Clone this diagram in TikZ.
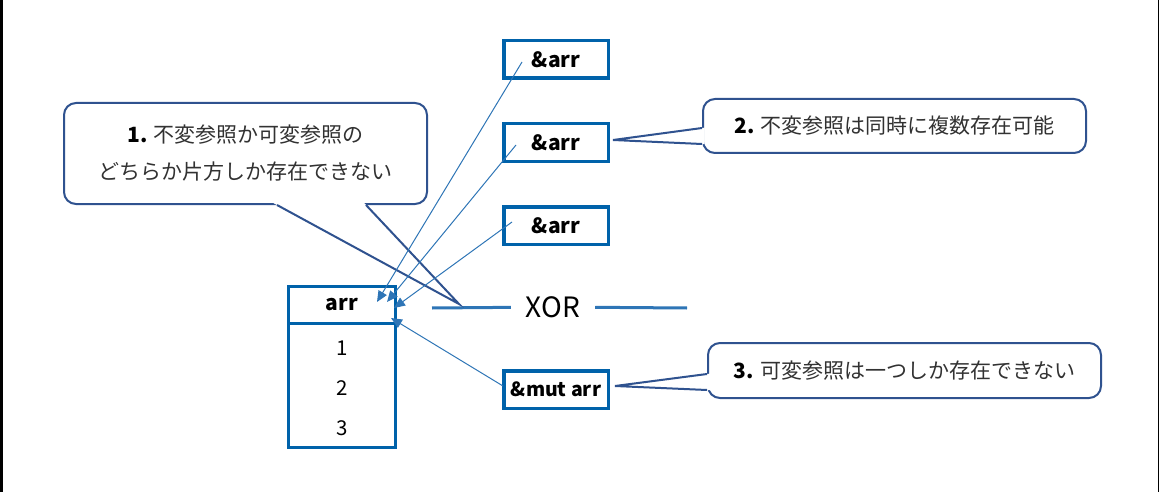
\documentclass[tikz,border=0pt]{standalone}
\usepackage{fontspec}
\setmainfont{Noto Sans CJK JP}
\usetikzlibrary{arrows.meta,positioning,calc}
\definecolor{boxblue}{RGB}{0,98,170}
\definecolor{linkblue}{RGB}{46,117,182}
\definecolor{noteblue}{RGB}{47,82,143}
\definecolor{notetext}{RGB}{50,50,50}

\begin{document}
\begin{tikzpicture}[x=1pt, y=-1pt, >={Triangle[length=11pt,width=9.5pt]},
		refbox/.style={draw=boxblue, line width=3.5pt, minimum width=104.5pt, minimum height=37.5pt,
			font=\fontsize{21}{24}\selectfont\bfseries},
		cellbox/.style={draw=boxblue, line width=3.5pt, outer sep=0pt, minimum width=107pt},
		note/.style={draw=noteblue, line width=2pt, rounded corners=12pt, fill=white, align=center,
			text=notetext, font=\fontsize{21}{37}\selectfont},
		notepin/.style={draw=noteblue, line width=2pt},
		link/.style={color=linkblue, line width=1pt},
		xorline/.style={draw=linkblue, line width=3pt}]
		\useasboundingbox (0,0) rectangle (1159,492);
		\fill[black] (0,0) rectangle (2.5,492);
		\draw[line width=1pt] (1158.5,0) -- (1158.5,492);

		\node[cellbox, minimum height=37pt, font=\fontsize{21}{24}\selectfont\bfseries](hd) at (342,305) {arr};
		\node[cellbox, minimum height=124pt](bd)[below=0pt of hd] {};
		\node[font=\fontsize{20.5}{22}\selectfont](n1) at (342,348) {1};
		\node[font=\fontsize{20.5}{22}\selectfont](n2) at (342,388) {2};
		\node[font=\fontsize{20.5}{22}\selectfont](n3) at (342,428) {3};

		\node[refbox](r1) at (556,59.5) {\&arr};
		\node[refbox](r2)[below=42pt of r1] {\&arr};
		\node[refbox](r3)[below=42pt of r2] {\&arr};
		\node[refbox, font=\fontsize{19.5}{24}\selectfont\bfseries](mut)[below=123pt of r3] {\&mut arr};

		\node[inner xsep=15pt, font=\fontsize{28}{30}\selectfont](xor) at (553,307) {XOR};
		\coordinate (xl) at (432,308);
		\coordinate (xr) at (687,308);
		\path[xorline] (xl) -- (xor) (xor) -- (xr);

		\node[note, minimum width=363pt, minimum height=101pt](c1) at (245.5,153.5)
			{{\color{black}\bfseries 1.} 不変参照か可変参照の\\どちらか片方しか存在できない};
		\node[note, minimum width=383pt, minimum height=54pt](c2) at (894.5,126)
			{{\color{black}\bfseries 2.} 不変参照は同時に複数存在可能};
		\node[note, minimum width=393pt, minimum height=55pt](c3) at (904.5,370.5)
			{{\color{black}\bfseries 3.} 可変参照は一つしか存在できない};

		\coordinate (p1) at (459,304);
		\coordinate (b1a) at (277,205);
		\coordinate (b1b) at (366,205);
		\coordinate (p2) at (613,140);
		\coordinate (b2a) at (702,128);
		\coordinate (b2b) at (702,144);
		\coordinate (p3) at (615,386);
		\coordinate (b3a) at (707,374);
		\coordinate (b3b) at (707,390);
		\foreach \p/\b in {p1/b1, p2/b2, p3/b3} {
			\fill[white] ($(\p)!1.03!(\b a)$) -- (\p) -- ($(\p)!1.03!(\b b)$) -- cycle;
			\draw[notepin] (\b a) -- (\p) -- (\b b);
		}

		\coordinate (s1) at (522,62);
		\coordinate (s2) at (516,145);
		\coordinate (s3) at (512,222);
		\coordinate (s4) at (503,386);
		\coordinate (e1) at (377,302);
		\coordinate (e2) at (387,302);
		\coordinate (e3) at (394,308);
		\coordinate (e4) at (391,318);
		\path[->, link] (s1) edge (e1)
		(s2) edge (e2)
		(s3) edge (e3)
		(s4) edge (e4)
		;
	\end{tikzpicture}
\end{document}
